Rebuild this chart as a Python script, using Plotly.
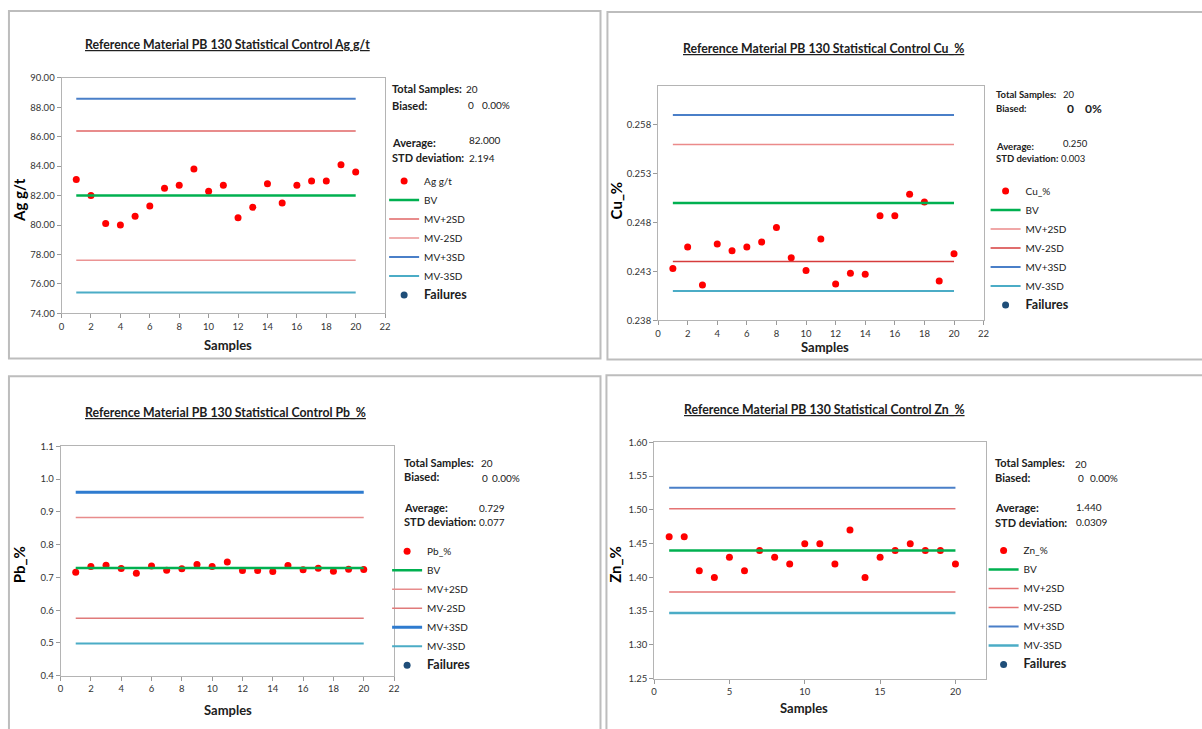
import plotly.graph_objects as go

# ---------------------------------------------------------------- data
samples = list(range(1, 21))

ag_values = [83.1, 82.0, 80.1, 80.0, 80.6, 81.3, 82.5, 82.7, 83.8, 82.3,
             82.7, 80.5, 81.2, 82.8, 81.5, 82.7, 83.0, 83.0, 84.1, 83.6]
cu_values = [0.2433, 0.2455, 0.2416, 0.2458, 0.2451, 0.2455, 0.2460, 0.2475, 0.2444, 0.2431,
             0.2463, 0.2417, 0.2428, 0.2427, 0.2487, 0.2487, 0.2509, 0.2501, 0.2420, 0.2448]
pb_values = [0.716, 0.733, 0.737, 0.727, 0.713, 0.735, 0.722, 0.726, 0.739, 0.733,
             0.747, 0.721, 0.721, 0.718, 0.736, 0.723, 0.728, 0.719, 0.725, 0.724]
zn_values = [1.46, 1.46, 1.41, 1.40, 1.43, 1.41, 1.44, 1.43, 1.42, 1.45,
             1.45, 1.42, 1.47, 1.40, 1.43, 1.44, 1.45, 1.44, 1.44, 1.42]

ag_average, ag_sd = 82.000, 2.194
cu_average, cu_sd = 0.250, 0.003
pb_average, pb_sd = 0.729, 0.077
zn_average, zn_sd = 1.440, 0.0309

ag_stat_text = ["82.000", "2.194"]
cu_stat_text = ["0.250", "0.003"]
pb_stat_text = ["0.729", "0.077"]
zn_stat_text = ["1.440", "0.0309"]

biased_count = [0, 0, 0, 0]
biased_pct_text = ["0.00%", "0%", "0.00%", "0.00%"]

# ---------------------------------------------------------------- page geometry
W, H = 1202, 729
FONT = "Lato, 'Liberation Sans', sans-serif"


def fx(x):
    return x / W


def fy(y):
    return 1 - y / H


panels = [
    dict(element="Ag g/t", values=ag_values, avg=ag_average, sd=ag_sd, stat=ag_stat_text,
         frame=(6, 5, 602, 358), plot=(59, 73, 385, 312),
         yrange=[74, 90], ydtick=2, ytick0=74, yfmt=".2f", xdtick=2,
         title_xy=(226, 39), ytitle_xy=(16, 197), xtitle_xy=(227, 344),
         label_x=390, label_size=11, value_size=10,
         rows=dict(total=(464, 84, 84), biased=(466, 481, 101, 101, 10),
                   avg=(468, 139, 136), sd=(467, 154, 154)),
         legend_y=163, legend_x=384,
         colors=dict(p2="#E06666", m2="#EB9494", p3="#4A7FC8", m3="#4BACC6"),
         widths=dict(p3=2, m3=2)),
    dict(element="Cu_%", values=cu_values, avg=cu_average, sd=cu_sd, stat=cu_stat_text,
         frame=(609, 6, 1210, 359), plot=(660, 81, 988, 319),
         yrange=[0.238, 0.262], ydtick=0.005, ytick0=0.238, yfmt=".3f", xdtick=2,
         title_xy=(827, 43), ytitle_xy=(618, 197), xtitle_xy=(828, 346),
         label_x=998, label_size=9.5, value_size=9.5,
         rows=dict(total=(1066, 90, 90), biased=(1070, 1088, 104, 104, 12),
                   avg=(1066, 143, 140), sd=(1064, 155, 155)),
         legend_y=173, legend_x=990,
         colors=dict(p2="#EB8A8A", m2="#D63C3C", p3="#4A7FC8", m3="#4BACC6"),
         widths=dict(p3=2, m3=2)),
    dict(element="Pb_%", values=pb_values, avg=pb_average, sd=pb_sd, stat=pb_stat_text,
         frame=(6, 376, 602, 740), plot=(58, 447, 394, 680),
         yrange=[0.4, 1.1], ydtick=0.1, ytick0=0.4, yfmt=".1f", xdtick=2,
         title_xy=(224, 413), ytitle_xy=(17, 567), xtitle_xy=(227, 715),
         label_x=402, label_size=11, value_size=10,
         rows=dict(total=(480, 463, 464), biased=(481, 491, 478, 479, 10),
                   avg=(478, 509, 510), sd=(478, 523, 524)),
         legend_y=539, legend_x=387,
         colors=dict(p2="#E88C8C", m2="#E07A7A", p3="#2E7BCF", m3="#4BACC6"),
         widths=dict(p3=3, m3=2)),
    dict(element="Zn_%", values=zn_values, avg=zn_average, sd=zn_sd, stat=zn_stat_text,
         frame=(608, 375, 1210, 740), plot=(656, 443, 990, 683),
         yrange=[1.25, 1.60], ydtick=0.05, ytick0=1.25, yfmt=".2f", xdtick=5,
         title_xy=(828, 410), ytitle_xy=(617, 567), xtitle_xy=(807, 713),
         label_x=997, label_size=11, value_size=10,
         rows=dict(total=(1078, 464, 465), biased=(1081, 1093, 479, 479, 10),
                   avg=(1079, 509, 509), sd=(1079, 524, 524)),
         legend_y=538, legend_x=988,
         colors=dict(p2="#E57373", m2="#E57373", p3="#4A7FC8", m3="#4BACC6"),
         widths=dict(p3=2, m3=2.5)),
]

fig = go.Figure()
annotations = []
shapes = []
layout = {}


def text_at(text, x, y, size, anchor="left", angle=0, color="#202020"):
    annotations.append(dict(
        text=text, x=fx(x), y=fy(y), xref="paper", yref="paper", showarrow=False,
        xanchor=anchor, yanchor="middle", textangle=angle,
        font=dict(family=FONT, size=size, color=color)))


for i, p in enumerate(panels, start=1):
    sfx = "" if i == 1 else str(i)
    xa, ya = "x" + sfx, "y" + sfx
    leg = "legend" + sfx
    x0, y0, x1, y1 = p["plot"]
    avg, sd = p["avg"], p["sd"]

    # measured results
    fig.add_trace(go.Scatter(
        x=samples, y=p["values"], mode="markers", name=p["element"],
        marker=dict(color="#FF0000", size=7), xaxis=xa, yaxis=ya, legend=leg))

    # control limits drawn across the sample span
    span = [samples[0], samples[-1]]
    limits = [
        ("BV", avg, "#00B050", 2.5),
        ("MV+2SD", avg + 2 * sd, p["colors"]["p2"], 1.5),
        ("MV-2SD", avg - 2 * sd, p["colors"]["m2"], 1.5),
        ("MV+3SD", avg + 3 * sd, p["colors"]["p3"], p["widths"]["p3"]),
        ("MV-3SD", avg - 3 * sd, p["colors"]["m3"], p["widths"]["m3"]),
    ]
    for name, level, color, width in limits:
        fig.add_trace(go.Scatter(
            x=span, y=[level, level], mode="lines", name=name,
            line=dict(color=color, width=width), xaxis=xa, yaxis=ya, legend=leg))

    # results outside the 3SD band (none here, the entry still shows in the key)
    upper, lower = avg + 3 * sd, avg - 3 * sd
    fail_x = [s for s, v in zip(samples, p["values"]) if v > upper or v < lower]
    fail_y = [v for v in p["values"] if v > upper or v < lower]
    fig.add_trace(go.Scatter(
        x=fail_x or [None], y=fail_y or [None], mode="markers",
        name="<b><span style='font-size:12.5px'>Failures</span></b>",
        marker=dict(color="#1F4E79", size=7), xaxis=xa, yaxis=ya, legend=leg))

    axis_common = dict(showgrid=False, zeroline=False, showline=True, mirror=True,
                       linecolor="#B4B4B4", linewidth=1, ticks="outside", ticklen=4,
                       tickcolor="#9A9A9A", tickfont=dict(family=FONT, size=9.5, color="#333333"))
    layout["xaxis" + sfx] = dict(axis_common, domain=[fx(x0), fx(x1)], anchor=ya,
                                 range=[0, 22], dtick=p["xdtick"], tick0=0)
    layout["yaxis" + sfx] = dict(axis_common, domain=[fy(y1), fy(y0)], anchor=xa,
                                 range=p["yrange"], dtick=p["ydtick"], tick0=p["ytick0"],
                                 tickformat=p["yfmt"])

    layout[leg] = dict(x=fx(p["legend_x"]), y=fy(p["legend_y"]), xanchor="left", yanchor="top",
                       xref="paper", yref="paper", bgcolor="rgba(0,0,0,0)",
                       font=dict(family=FONT, size=10, color="#202020"),
                       itemwidth=30, tracegroupgap=0)

    # panel frame
    fx0, fy0, fx1, fy1 = p["frame"]
    shapes.append(dict(type="rect", xref="paper", yref="paper",
                       x0=fx(fx0), x1=fx(fx1), y0=fy(fy1), y1=fy(fy0),
                       line=dict(color="#BDBDBD", width=2), layer="below"))

    tx, ty = p["title_xy"]
    text_at("<b><u>Reference Material PB 130 Statistical Control %s</u></b>" % p["element"],
            tx, ty, 12.3, anchor="center")
    yx, yy = p["ytitle_xy"]
    text_at("<b>%s</b>" % p["element"], yx, yy, 15, anchor="center", angle=-90, color="#000000")
    sx, sy = p["xtitle_xy"]
    text_at("<b>Samples</b>", sx, sy, 13, anchor="center")

    # summary block
    r = p["rows"]
    lx, ls, vs = p["label_x"], p["label_size"], p["value_size"]
    vx, ly, vy = r["total"]
    text_at("<b>Total Samples:</b>", lx, ly, ls)
    text_at(str(len(p["values"])), vx, vy, vs)
    cx, px_, ly, vy, bs = r["biased"]
    text_at("<b>Biased:</b>", lx, ly, ls)
    weight = "<b>%s</b>" if bs > 11 else "%s"
    text_at(weight % biased_count[i - 1], cx, vy, bs)
    text_at(weight % biased_pct_text[i - 1], px_, vy, bs)
    vx, ly, vy = r["avg"]
    text_at("<b>Average:</b>", lx, ly, ls)
    text_at(p["stat"][0], vx, vy, vs)
    vx, ly, vy = r["sd"]
    text_at("<b>STD deviation:</b>", lx, ly, ls)
    text_at(p["stat"][1], vx, vy, vs)

fig.update_layout(
    width=W, height=H, margin=dict(l=0, r=0, t=0, b=0),
    paper_bgcolor="white", plot_bgcolor="white",
    showlegend=True, annotations=annotations, shapes=shapes,
    font=dict(family=FONT), **layout)

fig.write_html("out.html")
